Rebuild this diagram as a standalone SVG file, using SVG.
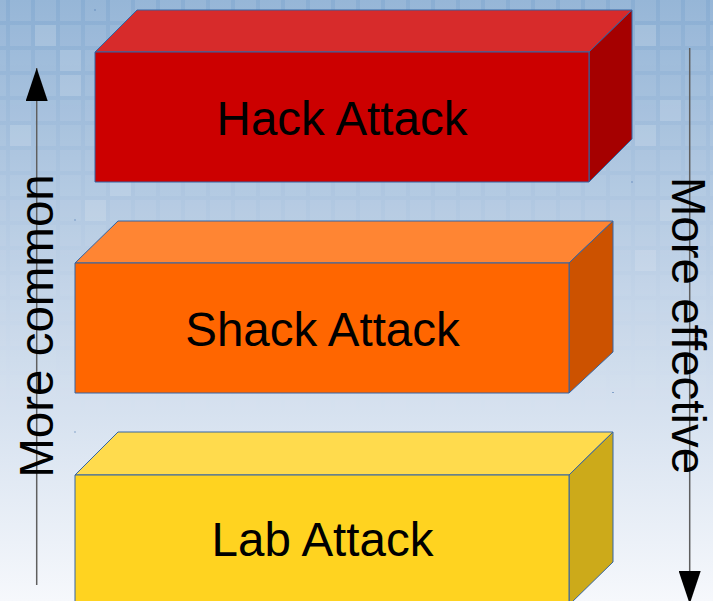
<svg xmlns="http://www.w3.org/2000/svg" width="713" height="601" viewBox="0 0 713 601">
  <defs>
    <linearGradient id="bg" x1="0" y1="0" x2="0" y2="1">
      <stop offset="0" stop-color="#8aaed3"/>
      <stop offset="0.5" stop-color="#c3d4e8"/>
      <stop offset="1" stop-color="#f6f8fc"/>
    </linearGradient>
    <linearGradient id="fade" x1="0" y1="0" x2="0" y2="1">
      <stop offset="0" stop-color="#fff" stop-opacity="1"/>
      <stop offset="0.75" stop-color="#fff" stop-opacity="0.15"/>
      <stop offset="1" stop-color="#fff" stop-opacity="0"/>
    </linearGradient>
    <pattern id="tiles" x="10" y="0" width="25" height="25" patternUnits="userSpaceOnUse">
      <rect x="0" y="0" width="21" height="21" fill="#ffffff" fill-opacity="0.11"/>
    </pattern>
    <mask id="tileMask">
      <rect width="713" height="601" fill="url(#fade)"/>
    </mask>
    <marker id="arrow" viewBox="0 0 33 22" refX="33" refY="11" markerWidth="33" markerHeight="22" markerUnits="userSpaceOnUse" orient="auto">
      <path d="M0,0 L33,11 L0,22 z" fill="#000"/>
    </marker>
    <style>
      .edge { stroke: #3465a4; stroke-width: 1; stroke-linejoin: round; }
      .label { font-family: "Liberation Sans", Arial, sans-serif; font-size: 47.5px; fill: #000; }
      .axis { stroke: #5f5f5f; stroke-width: 1.5; fill: none; }
      .speck { fill: #3465a4; }
    </style>
  </defs>

  <!-- backdrop: blue wash with a faint tile grid fading downward -->
  <rect width="713" height="601" fill="url(#bg)"/>
  <rect width="713" height="601" fill="url(#tiles)" mask="url(#tileMask)"/>
  <g fill="#ffffff" fill-opacity="0.1">
    <rect x="35" y="25" width="21" height="21"/>
    <rect x="60" y="50" width="21" height="21"/>
    <rect x="60" y="75" width="21" height="21"/>
    <rect x="10" y="125" width="21" height="21"/>
    <rect x="110" y="175" width="21" height="21"/>
    <rect x="85" y="200" width="21" height="21"/>
    <rect x="635" y="25" width="21" height="21"/>
    <rect x="660" y="100" width="21" height="21"/>
    <rect x="635" y="125" width="21" height="21"/>
    <rect x="660" y="200" width="21" height="21"/>
    <rect x="635" y="250" width="21" height="21"/>
  </g>

  <!-- tiny bounding marks -->
  <g class="speck">
    <rect x="94.5" y="9.5" width="1" height="1"/>
    <rect x="631.5" y="181.5" width="1" height="1"/>
    <rect x="74.5" y="219.5" width="1" height="1"/>
    <rect x="612.5" y="392" width="1" height="1"/>
    <rect x="74.5" y="431.5" width="1" height="1"/>
  </g>

  <!-- top block -->
  <g id="hack-attack">
    <polygon class="edge" points="95,52 137,10 632,10 589,52" fill="#d72b2b"/>
    <polygon class="edge" points="589,52 632,10 632,139 589,182" fill="#a50000"/>
    <rect class="edge" x="95" y="52" width="494" height="130" fill="#cc0000"/>
    <text class="label" x="342" y="134.5" text-anchor="middle">Hack Attack</text>
  </g>

  <!-- middle block -->
  <g id="shack-attack">
    <polygon class="edge" points="75,263 118,221 613,221 569,263" fill="#ff8533"/>
    <polygon class="edge" points="569,263 613,221 613,352 569,393" fill="#cc5200"/>
    <rect class="edge" x="75" y="263" width="494" height="130" fill="#ff6600"/>
    <text class="label" x="322.5" y="346" text-anchor="middle">Shack Attack</text>
  </g>

  <!-- bottom block -->
  <g id="lab-attack">
    <polygon class="edge" points="75,475 118,432 613,432 569,475" fill="#ffdb4d"/>
    <polygon class="edge" points="569,475 613,432 613,562 569,605" fill="#ccaa1a"/>
    <rect class="edge" x="75" y="475" width="494" height="130" fill="#ffd320"/>
    <text class="label" x="322.5" y="556" text-anchor="middle">Lab Attack</text>
  </g>

  <!-- axes -->
  <g id="connectors">
    <line class="axis" x1="36.7" y1="585" x2="36.7" y2="68" marker-end="url(#arrow)"/>
    <line class="axis" x1="689.7" y1="48" x2="689.7" y2="604" marker-end="url(#arrow)"/>
  </g>

  <g id="axis-labels">
    <text class="label" transform="translate(53,326) rotate(-90)" text-anchor="middle">More common</text>
    <text class="label" transform="translate(671.5,325.5) rotate(90)" text-anchor="middle">More effective</text>
  </g>
</svg>
